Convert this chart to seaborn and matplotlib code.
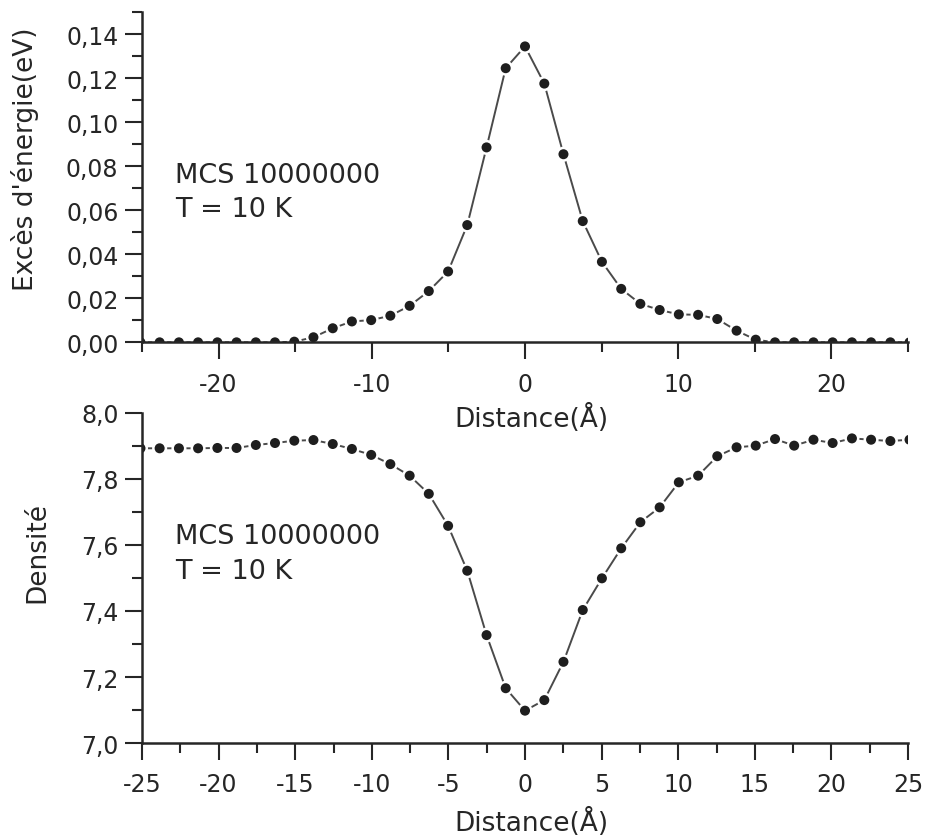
import matplotlib
matplotlib.use("Agg")
import matplotlib.pyplot as plt
from matplotlib.ticker import MultipleLocator, FuncFormatter
import pandas as pd
import seaborn as sns

# Profile across the defect, sampled along the distance axis (Å)
distance = [-25.10, -23.85, -22.59, -21.34, -20.08, -18.83, -17.57, -16.32,
            -15.06, -13.81, -12.55, -11.30, -10.04, -8.79, -7.53, -6.28,
            -5.02, -3.77, -2.51, -1.26, 0.00, 1.26, 2.51, 3.77,
            5.02, 6.28, 7.53, 8.79, 10.04, 11.30, 12.55, 13.81,
            15.06, 16.32, 17.57, 18.83, 20.08, 21.34, 22.59, 23.85, 25.10]

# Energy excess (eV)
energy = [0.0, 0.0, 0.0, 0.0, 0.0, 0.0, 0.0, 0.0,
          0.0003, 0.0023, 0.0064, 0.0095, 0.0101, 0.0121, 0.0166, 0.0233,
          0.0322, 0.0533, 0.0886, 0.1246, 0.1345, 0.1176, 0.0855, 0.0551,
          0.0366, 0.0243, 0.0175, 0.0147, 0.0127, 0.0125, 0.0106, 0.0053,
          0.0012, 0.0, 0.0, 0.0, 0.0, 0.0, 0.0, 0.0, 0.0]

# Density
density = [7.893, 7.893, 7.893, 7.893, 7.894, 7.894, 7.903, 7.909,
           7.916, 7.918, 7.906, 7.891, 7.873, 7.845, 7.810, 7.755,
           7.658, 7.522, 7.327, 7.166, 7.098, 7.130, 7.246, 7.403,
           7.499, 7.590, 7.669, 7.714, 7.790, 7.810, 7.869, 7.896,
           7.901, 7.921, 7.901, 7.919, 7.909, 7.923, 7.919, 7.915, 7.919]

annot_lines = ["MCS 10000000", "T = 10 K"]
x_label = "Distance(Å)"
top_ylabel = "Excès d'énergie(eV)"
bottom_ylabel = "Densité"

sns.set_theme(style="ticks")
plt.rcParams["font.family"] = ["DejaVu Sans"]
plt.rcParams["axes.unicode_minus"] = False

INK = "#262626"
LINE = "#4a4a4a"
DOT = "#1e1e1e"

fig = plt.figure(figsize=(9.27, 8.37), dpi=100)
fig.patch.set_facecolor("white")
ax_top = fig.add_axes([0.1532, 0.5898, 0.8263, 0.3943])
ax_bot = fig.add_axes([0.1532, 0.1111, 0.8263, 0.3943])
# the upper x label sits beside the lower panel's top, keep it in front
ax_top.set_zorder(3)
ax_bot.set_zorder(1)

df = pd.DataFrame({"distance": distance, "energy": energy, "density": density})


def draw_profile(ax, col):
    sns.lineplot(data=df, x="distance", y=col, ax=ax, color=LINE,
                 linewidth=1.4, errorbar=None, sort=False, zorder=2)
    # white halo leaves a small gap in the line around every symbol
    sns.scatterplot(data=df, x="distance", y=col, ax=ax, s=118,
                    color="white", edgecolor="none", linewidth=0, zorder=3)
    sns.scatterplot(data=df, x="distance", y=col, ax=ax, s=52,
                    color=DOT, edgecolor="none", linewidth=0, zorder=4)


def style_axes(ax):
    sns.despine(ax=ax)
    for side in ("left", "bottom"):
        ax.spines[side].set_linewidth(1.8)
        ax.spines[side].set_color(INK)
        ax.spines[side].set_zorder(6)
    ax.tick_params(which="major", direction="out", length=12, width=1.5,
                   color=INK, labelsize=17, labelcolor=INK)
    ax.tick_params(which="minor", direction="out", length=7, width=1.5,
                   color=INK)
    ax.tick_params(axis="x", which="both", pad=9)
    ax.tick_params(axis="y", which="both", pad=5)
    ax.patch.set_visible(False)


draw_profile(ax_top, "energy")
draw_profile(ax_bot, "density")

# upper panel: energy excess
ax_top.set_xlim(-25, 25)
ax_top.set_ylim(0, 0.15)
ax_top.xaxis.set_major_locator(MultipleLocator(10))
ax_top.xaxis.set_minor_locator(MultipleLocator(5))
ax_top.yaxis.set_major_locator(MultipleLocator(0.02))
ax_top.yaxis.set_minor_locator(MultipleLocator(0.01))
ax_top.xaxis.set_major_formatter(FuncFormatter(lambda v, _: f"{v:g}"))
ax_top.yaxis.set_major_formatter(
    FuncFormatter(lambda v, _: f"{v:.2f}".replace(".", ",")))

# lower panel: density
ax_bot.set_xlim(-25, 25)
ax_bot.set_ylim(7.0, 8.0)
ax_bot.xaxis.set_major_locator(MultipleLocator(5))
ax_bot.xaxis.set_minor_locator(MultipleLocator(2.5))
ax_bot.yaxis.set_major_locator(MultipleLocator(0.2))
ax_bot.yaxis.set_minor_locator(MultipleLocator(0.1))
ax_bot.xaxis.set_major_formatter(FuncFormatter(lambda v, _: f"{v:g}"))
ax_bot.yaxis.set_major_formatter(
    FuncFormatter(lambda v, _: f"{v:.1f}".replace(".", ",")))

for ax in (ax_top, ax_bot):
    style_axes(ax)

label_kw = dict(fontsize=19, color=INK)
ax_top.set_xlabel(x_label, **label_kw)
ax_top.set_ylabel(top_ylabel, **label_kw)
ax_bot.set_xlabel(x_label, **label_kw)
ax_bot.set_ylabel(bottom_ylabel, **label_kw)

ax_top.yaxis.set_label_coords(-0.1345, 0.558)
ax_bot.yaxis.set_label_coords(-0.119, 0.579)
ax_top.xaxis.set_label_coords(0.509, -0.2536)
ax_bot.xaxis.set_label_coords(0.508, -0.2636)
ax_top.xaxis.label.set_va("baseline")
ax_bot.xaxis.label.set_va("baseline")

# run annotation in each panel
for ax, (y1, y2) in ((ax_top, (0.4867, 0.3836)), (ax_bot, (0.606, 0.499))):
    ax.text(0.043, y1, annot_lines[0], transform=ax.transAxes,
            fontsize=19.5, color=INK, va="baseline", ha="left")
    ax.text(0.043, y2, annot_lines[1], transform=ax.transAxes,
            fontsize=19.5, color=INK, va="baseline", ha="left")

fig.savefig("out.png", dpi=100, facecolor="white")
